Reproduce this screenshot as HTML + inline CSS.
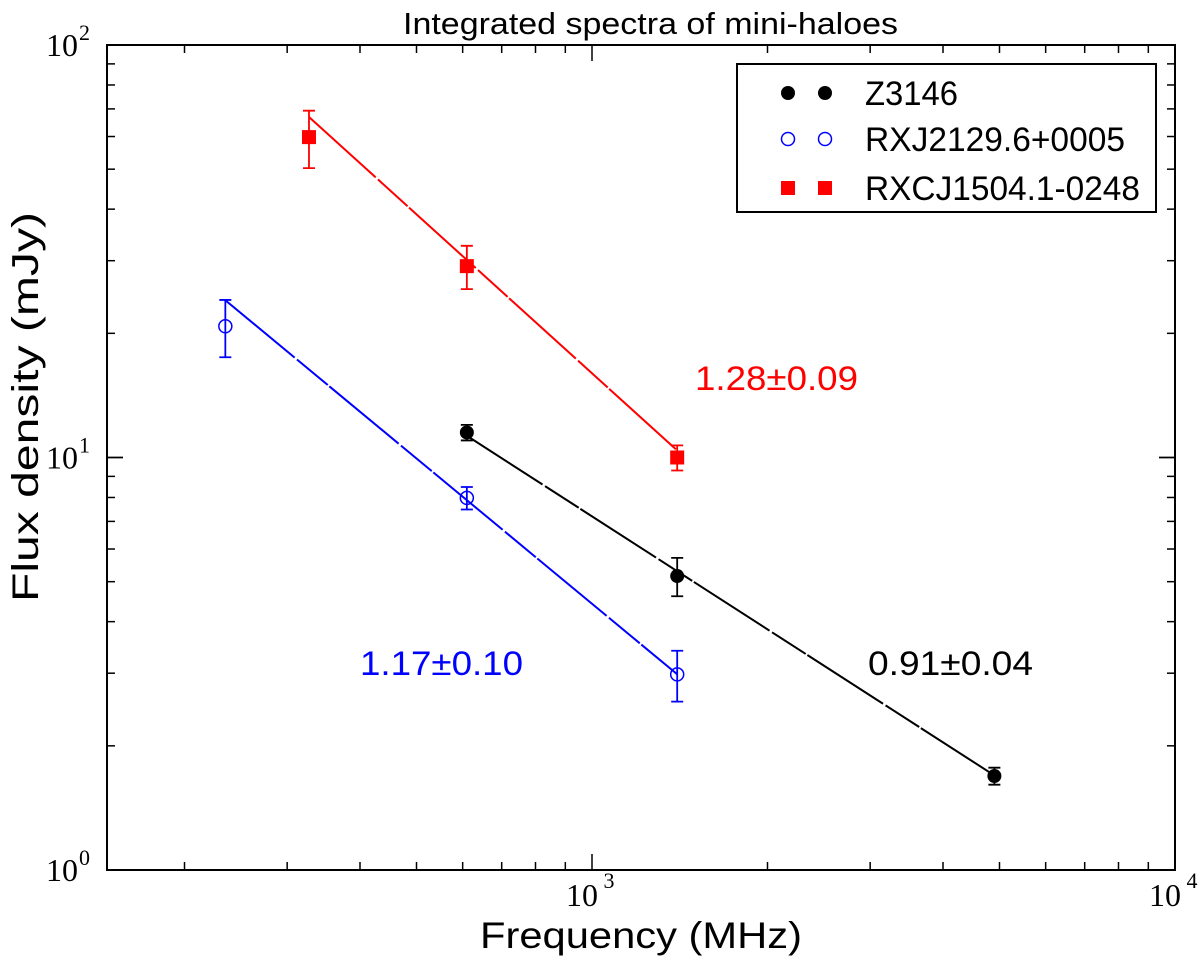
<!DOCTYPE html>
<html><head><meta charset="utf-8"><style>
html,body{margin:0;padding:0;background:#fff;}
svg{display:block;font-family:"Liberation Sans",sans-serif;}
</style></head><body>
<svg id="chart" width="1200" height="959" xmlns="http://www.w3.org/2000/svg">
<text x="403" y="34" font-size="31" textLength="495" lengthAdjust="spacingAndGlyphs">Integrated spectra of mini-haloes</text>
<text x="480" y="948" font-size="37" textLength="322" lengthAdjust="spacingAndGlyphs">Frequency (MHz)</text>
<text transform="translate(38,602) rotate(-90)" font-size="37" textLength="390" lengthAdjust="spacingAndGlyphs">Flux density (mJy)</text>
<g id="ticks"></g>
<g id="fits"></g>
<g id="marks"></g>
<rect x="107" y="45" width="1068" height="825" fill="none" stroke="#000" stroke-width="2"/>
<g>
<rect x="737" y="64" width="419" height="148" fill="#fff" stroke="#000" stroke-width="2"/>
<circle cx="788" cy="93" r="7" fill="#000"/><circle cx="825" cy="93" r="7" fill="#000"/>
<text x="865" y="105" font-size="34" textLength="93" lengthAdjust="spacingAndGlyphs">Z3146</text>
<circle cx="788" cy="139" r="6.5" fill="none" stroke="#00f" stroke-width="1.5"/><circle cx="825" cy="139" r="6.5" fill="none" stroke="#00f" stroke-width="1.5"/>
<text x="865" y="151" font-size="34" textLength="260" lengthAdjust="spacingAndGlyphs">RXJ2129.6+0005</text>
<rect x="781" y="181" width="14" height="14" fill="#f00"/><rect x="818" y="181" width="14" height="14" fill="#f00"/>
<text x="865" y="200" font-size="34" textLength="275" lengthAdjust="spacingAndGlyphs">RXCJ1504.1-0248</text>
</g>
<text x="695" y="390" font-size="34" fill="#f00" textLength="163" lengthAdjust="spacingAndGlyphs">1.28±0.09</text>
<text x="360" y="675" font-size="34" fill="#00f" textLength="163" lengthAdjust="spacingAndGlyphs">1.17±0.10</text>
<text x="868" y="675" font-size="34" fill="#000" textLength="165" lengthAdjust="spacingAndGlyphs">0.91±0.04</text>
</svg>
<script>
const zFreq=[610,1400,4900], zFlux=[11.5,5.16,1.69], zErr=[0.5,0.55,0.08];
const bFreq=[235,610,1400], bFlux=[20.8,7.98,2.98], bErr=[3.3,0.5,0.42];
const rFreq=[327,610,1400], rFlux=[59.8,29.1,10.0], rErr=[9.5,3.5,0.7];
const fitAlpha=[0.91,1.17,1.28], fitNorm=[7.2,4.42,16.0];
const fitRange=[[610,4900],[235,1400],[327,1400]];
const fitColor=['#000','#00f','#f00'];
const xTickLabels=['10','10'], xTickExp=['3','4'], xTickVals=[1000,10000];
const yTickVals=[1,10,100], yTickExp=['0','1','2'];

const NS='http://www.w3.org/2000/svg';
const X0=107,X1=1175,Y0=45,Y1=870;
const xlmin=Math.log10(1000)-485/583, xdec=583;
function xs(f){return X0+(Math.log10(f)-xlmin)*xdec;}
function ys(v){return 870-(Math.log10(v))*412.5;}
function mk(tag,attrs,parent){const e=document.createElementNS(NS,tag);for(const k in attrs)e.setAttribute(k,attrs[k]);parent.appendChild(e);return e;}
const T=document.getElementById('ticks');
for(let d=2;d<=4;d++)for(let m=1;m<10;m++){const f=m*Math.pow(10,d);const x=xs(f);if(x<X0+1||x>X1-1)continue;const L=m===1?16:8;
 const a=mk('line',{x1:x,x2:x,y1:Y1,y2:Y1-L,stroke:'#000','stroke-width':1.5},T);
 const b=mk('line',{x1:x,x2:x,y1:Y0,y2:Y0+L,stroke:'#000','stroke-width':1.5},T);}
xTickVals.forEach((v,i)=>{const x=xs(v);const t=mk('text',{x:x-10,y:906,'font-size':32,'text-anchor':'middle','font-family':'Liberation Serif,serif'},T);t.textContent=xTickLabels[i];
 
 const s=mk('text',{x:x+17,y:888,'font-size':22,'text-anchor':'middle','font-family':'Liberation Serif,serif'},T);s.textContent=xTickExp[i];});
for(let d=0;d<2;d++)for(let m=1;m<=10;m++){const v=m*Math.pow(10,d);const y=ys(v);const L=(m===1||m===10)?16:8;if(y<Y0+1||y>Y1-1)continue;
 const a=mk('line',{x1:X0,x2:X0+L,y1:y,y2:y,stroke:'#000','stroke-width':1.5},T);
 const b=mk('line',{x1:X1,x2:X1-L,y1:y,y2:y,stroke:'#000','stroke-width':1.5},T);}
yTickVals.forEach((v,i)=>{const y=ys(v);const t=mk('text',{x:46,y:y+11,'font-size':32,'font-family':'Liberation Serif,serif'},T);t.textContent='10';
 const s=mk('text',{x:79,y:y-5,'font-size':22,'font-family':'Liberation Serif,serif'},T);s.textContent=yTickExp[i];});
const F=document.getElementById('fits');
fitAlpha.forEach((a,i)=>{const [f0,f1]=fitRange[i];const s=f=>fitNorm[i]*Math.pow(f/1000,-a);
 const l=mk('line',{x1:xs(f0),y1:ys(s(f0)),x2:xs(f1),y2:ys(s(f1)),stroke:fitColor[i],'stroke-width':2,'stroke-dasharray':'90 3 40 2'},F);
 });
const M=document.getElementById('marks');
function err(f,v,e,c){const x=xs(f);const l=mk('path',{d:`M${x},${ys(v+e)}V${ys(v-e)}M${x-6},${ys(v+e)}h12M${x-6},${ys(v-e)}h12`,stroke:c,'stroke-width':1.8,fill:'none'},M);
 }
zFreq.forEach((f,i)=>{err(f,zFlux[i],zErr[i],'#000');const c=mk('circle',{cx:xs(f),cy:ys(zFlux[i]),r:7,fill:'#000'},M);});
bFreq.forEach((f,i)=>{err(f,bFlux[i],bErr[i],'#00f');const c=mk('circle',{cx:xs(f),cy:ys(bFlux[i]),r:6.5,fill:'none',stroke:'#00f','stroke-width':1.5},M);});
rFreq.forEach((f,i)=>{err(f,rFlux[i],rErr[i],'#f00');const c=mk('rect',{x:xs(f)-7,y:ys(rFlux[i])-7,width:14,height:14,fill:'#f00'},M);});
</script>
</body></html>
